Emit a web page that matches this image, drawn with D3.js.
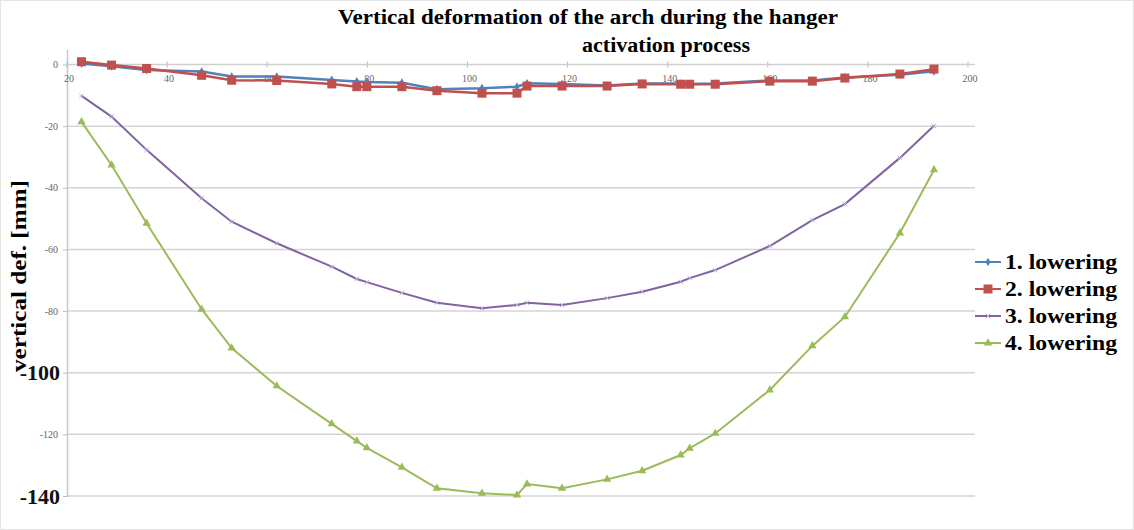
<!DOCTYPE html>
<html>
<head>
<meta charset="utf-8">
<script src="https://cdn.jsdelivr.net/npm/d3@7"></script>
<style>
  body { margin: 0; background: #fff; }
  .small-tick { font-family: "Liberation Serif", serif; font-size: 10px; fill: #666; }
</style>
</head>
<body>
<div class="chart"></div>
<script>
// distance along the arch [m]
const positions = [23, 29, 36, 47, 53, 62, 73, 78, 80, 87, 94, 103, 110, 112, 119, 128, 135, 142.7, 144.5, 149.6, 160.5, 169, 175.5, 186.5, 193.3];
// vertical deformation [mm]
const lowering1 = [0.3, -0.6, -1.8, -2.3, -3.9, -3.9, -5, -5.5, -5.7, -5.9, -8, -7.7, -7.2, -6.1, -6.3, -6.8, -6.2, -6.2, -6.3, -6.2, -5.2, -5.2, -4.2, -3.3, -2.2];
const lowering2 = [0.9, -0.2, -1.3, -3.5, -5.1, -5.2, -6.3, -7.2, -7.2, -7.2, -8.5, -9.3, -9.3, -7, -7, -7, -6.3, -6.4, -6.4, -6.4, -5.4, -5.4, -4.4, -3.1, -1.5];
const lowering3 = [-10.2, -16.9, -27.7, -43.4, -51, -58, -65.6, -69.6, -70.6, -74.1, -77.3, -79.1, -78, -77.3, -78, -75.8, -73.7, -70.5, -69.3, -66.7, -58.9, -50.5, -45.3, -30.3, -19.9];
const lowering4 = [-18.6, -32.6, -51.5, -79.4, -92, -104.3, -116.6, -122.2, -124.4, -130.7, -137.5, -139.1, -139.7, -136.1, -137.5, -134.6, -131.8, -126.7, -124.5, -119.7, -105.6, -91.3, -81.9, -54.7, -34.2];
const seriesNames = ['1. lowering', '2. lowering', '3. lowering', '4. lowering'];
const xTicks = [20, 40, 60, 80, 100, 120, 140, 160, 180, 200];
const yTicks = [0, -20, -40, -60, -80, -100, -120, -140];
const bigYTicks = [-100, -140];

const width = 1134, height = 530;
const svg = d3.select('.chart').append('svg')
    .attr('width', width)
    .attr('height', height);

svg.append('rect')
    .attr('x', 0.5).attr('y', 0.5)
    .attr('width', width - 1).attr('height', height - 1)
    .attr('fill', 'white')
    .attr('stroke', '#e4e4e4');

const xScale = d3.scaleLinear().domain([20, 200]).range([66.5, 967.5]);
const yScale = d3.scaleLinear().domain([-140, 0]).range([496, 64.5]);

const colors = ['#4f81bd', '#c0504d', '#8064a2', '#9bbb59'];
const allSeries = [lowering1, lowering2, lowering3, lowering4];

// gridlines
svg.append('g')
    .selectAll('line')
    .data(yTicks.filter(d => d !== 0))
    .enter()
    .append('line')
    .attr('x1', 67).attr('x2', 975)
    .attr('y1', d => yScale(d)).attr('y2', d => yScale(d))
    .attr('stroke', '#d4d4d4')
    .attr('stroke-width', 1.5);

// y axis
const yAxis = d3.axisLeft(yScale).tickValues(yTicks).tickSize(4).tickFormat(d => bigYTicks.includes(d) ? '' : d);
const gy = svg.append('g')
    .attr('transform', 'translate(67,0)')
    .call(yAxis);
gy.select('.domain').remove();
gy.selectAll('.tick line').attr('stroke', '#bbb');
gy.selectAll('.tick text').attr('class', 'small-tick').attr('x', -9);
svg.append('line')
    .attr('x1', 67.5).attr('x2', 67.5)
    .attr('y1', 50).attr('y2', 497)
    .attr('stroke', '#c8c8c8')
    .attr('stroke-width', 1.5);
svg.selectAll('.big-tick')
    .data(bigYTicks)
    .enter()
    .append('text')
    .attr('class', 'big-tick')
    .text(d => d)
    .attr('x', 60)
    .attr('y', d => yScale(d))
    .attr('dy', '0.35em')
    .attr('text-anchor', 'end')
    .attr('font-family', 'Liberation Serif, serif')
    .attr('font-weight', 'bold')
    .attr('font-size', 22)
    .attr('fill', '#111');

// x axis on the zero line
const xAxis = d3.axisBottom(xScale).tickValues(xTicks).tickSize(3);
const gx = svg.append('g')
    .attr('transform', `translate(0,${yScale(0)})`)
    .call(xAxis);
gx.select('.domain').remove();
gx.selectAll('.tick line').attr('stroke', '#bbb').attr('y1', -3);
gx.selectAll('.tick text').attr('class', 'small-tick').attr('y', 10).attr('dx', 2);
svg.append('line')
    .attr('x1', 67).attr('x2', 975)
    .attr('y1', yScale(0)).attr('y2', yScale(0))
    .attr('stroke', '#cfcfcf')
    .attr('stroke-width', 1.5);

// series lines
const line = d3.line()
    .x((d, i) => xScale(positions[i]))
    .y(d => yScale(d));

allSeries.forEach((vals, k) => {
    svg.append('path')
        .datum(vals)
        .attr('d', line)
        .attr('fill', 'none')
        .attr('stroke', colors[k])
        .attr('stroke-width', k < 2 ? 2.5 : 2);
});

// markers
function drawMarker(g, k, x, y) {
    if (k === 0) {
        g.append('path')
            .attr('d', d3.symbol(d3.symbolDiamond, 22)())
            .attr('transform', `translate(${x},${y})`)
            .attr('fill', colors[0]);
    } else if (k === 1) {
        g.append('rect')
            .attr('x', x - 4.5).attr('y', y - 4.5)
            .attr('width', 9).attr('height', 9)
            .attr('fill', colors[1]);
    } else if (k === 2) {
        g.append('path')
            .attr('d', d3.symbol(d3.symbolTimes, 14)())
            .attr('transform', `translate(${x},${y})`)
            .attr('stroke', '#b9a8d0')
            .attr('stroke-width', 1)
            .attr('fill', 'none');
    } else {
        g.append('path')
            .attr('d', d3.symbol(d3.symbolTriangle, 30)())
            .attr('transform', `translate(${x},${y})`)
            .attr('fill', colors[3]);
    }
}

[0, 2, 3, 1].forEach(k => {
    const g = svg.append('g');
    allSeries[k].forEach((v, i) => drawMarker(g, k, xScale(positions[i]), yScale(v)));
});

// title
svg.append('text')
    .text('Vertical deformation of the arch during the hanger')
    .attr('x', 588).attr('y', 24)
    .attr('text-anchor', 'middle')
    .attr('font-family', 'Liberation Serif, serif')
    .attr('font-weight', 'bold')
    .attr('font-size', 20)
    .attr('textLength', 500)
    .attr('lengthAdjust', 'spacingAndGlyphs');
svg.append('text')
    .text('activation process')
    .attr('x', 666).attr('y', 52)
    .attr('text-anchor', 'middle')
    .attr('font-family', 'Liberation Serif, serif')
    .attr('font-weight', 'bold')
    .attr('font-size', 20)
    .attr('textLength', 168)
    .attr('lengthAdjust', 'spacingAndGlyphs');

// y label
svg.append('text')
    .text('vertical def. [mm]')
    .attr('transform', 'translate(26,276) rotate(-90)')
    .attr('text-anchor', 'middle')
    .attr('font-family', 'Liberation Serif, serif')
    .attr('font-weight', 'bold')
    .attr('font-size', 21)
    .attr('textLength', 192)
    .attr('lengthAdjust', 'spacingAndGlyphs');

// legend
const legend = svg.selectAll('.legend')
    .data(seriesNames)
    .enter()
    .append('g')
    .attr('class', 'legend')
    .attr('transform', (d, i) => `translate(975,${262 + i * 27})`);
legend.append('line')
    .attr('x1', 0).attr('x2', 26)
    .attr('stroke', (d, i) => colors[i])
    .attr('stroke-width', 2);
legend.each(function(d, i) { drawMarker(d3.select(this), i, 13, 0); });
legend.append('text')
    .text(d => d)
    .attr('x', 30)
    .attr('dy', '0.35em')
    .attr('font-family', 'Liberation Serif, serif')
    .attr('font-weight', 'bold')
    .attr('font-size', 20)
    .attr('textLength', 112)
    .attr('lengthAdjust', 'spacingAndGlyphs');
</script>
</body>
</html>
